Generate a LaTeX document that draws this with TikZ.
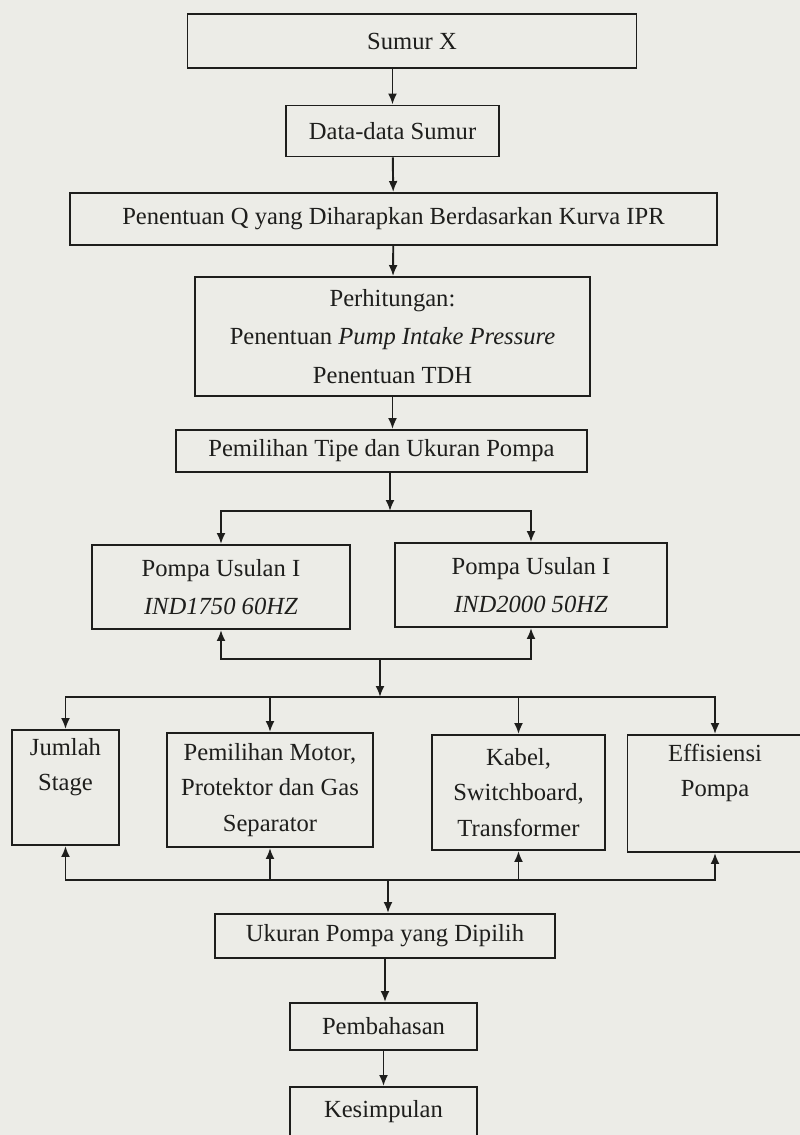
\documentclass[tikz,border=0pt]{standalone}
\usepackage{fontspec}
\setmainfont{Liberation Serif}
\usetikzlibrary{arrows.meta, positioning, calc}
\definecolor{paper}{RGB}{236,236,231}
\definecolor{ink}{RGB}{30,30,28}
\tikzset{
    >={Latex[length=2.2mm,width=1.8mm]},
    % Shapes
    box/.style={rectangle, draw=ink, line width=1.1pt, fill=paper, align=center,
                text=ink, font=\fontsize{14}{20}\selectfont, inner sep=2pt},
    % Flow
    flow/.style={->, line width=1.1pt, draw=ink}
}

\begin{document}
\begin{tikzpicture}
\fill[paper] (0,0) rectangle (16,-22.7);
\useasboundingbox (0,0) rectangle (16,-22.7);

% main column
\node[box, minimum width=8.98cm, minimum height=1.08cm] (sumur) at (8.24,-0.82) {Sumur X};
\node[box, minimum width=4.26cm, minimum height=1.02cm] (data) at (7.85,-2.62) {Data-data Sumur};
\node[box, minimum width=12.94cm, minimum height=1.04cm] (ipr) at (7.87,-4.38) {Penentuan Q yang Diharapkan Berdasarkan Kurva IPR};
\node[box, minimum width=7.9cm, minimum height=2.38cm] (hitung) at (7.85,-6.73)
    {Perhitungan:\\[2pt] Penentuan \textit{Pump Intake Pressure}\\[2pt] Penentuan TDH};
\node[box, minimum width=8.22cm, minimum height=0.84cm] (tipe) at (7.63,-9.02) {Pemilihan Tipe dan Ukuran Pompa};

% pump options
\node[box, minimum width=5.16cm, minimum height=1.68cm] (usulA) at (4.42,-11.74) {Pompa Usulan I\\[2pt] \textit{IND1750 60HZ}};
\node[box, minimum width=5.44cm, minimum height=1.68cm] (usulB) at (10.62,-11.7) {Pompa Usulan I\\[2pt] \textit{IND2000 50HZ}};

% components
\node[box, minimum width=2.14cm, minimum height=2.3cm] (stage) at (1.31,-15.75) {Jumlah\\ Stage\\ \strut};
\node[box, minimum width=4.12cm, minimum height=2.28cm] (motor) at (5.4,-15.8) {Pemilihan Motor,\\ Protektor dan Gas\\ Separator};
\node[box, minimum width=3.46cm, minimum height=2.3cm] (kabel) at (10.37,-15.85) {Kabel,\\ Switchboard,\\ Transformer};
\node[box, minimum width=3.5cm, minimum height=2.34cm] (effi) at (14.3,-15.87) {Effisiensi\\ Pompa\\ \strut};

% result
\node[box, minimum width=6.8cm, minimum height=0.88cm] (ukuran) at (7.7,-18.72) {Ukuran Pompa yang Dipilih};
\node[box, minimum width=3.74cm, minimum height=0.94cm] (bahas) at (7.67,-20.53) {Pembahasan};
\node[box, minimum width=3.74cm, minimum height=1.0cm] (simpul) at (7.67,-22.24) {Kesimpulan};

% junctions
\coordinate (br1) at (7.8,-10.22);
\coordinate (mg1) at (7.6,-13.18);
\coordinate (sp1) at (7.6,-13.94);
\coordinate (mg2) at (7.76,-17.6);

\draw[flow] (sumur.south -| data.north) -- (data.north);
\draw[flow] (data) -- (ipr);
\draw[flow] (ipr) -- (hitung);
\draw[flow] (hitung.south) -- (hitung.south |- tipe.north);
\draw[flow] (tipe.south -| br1) -- (br1);

\draw[flow] (br1) -| (usulA);
\draw[flow] (br1) -| (usulB);
\draw[flow] (mg1) -| (usulA);
\draw[flow] (mg1) -| (usulB);
\draw[flow] (mg1) -- (sp1);

\foreach \n in {stage, motor, kabel, effi} {
    \draw[flow] (sp1) -| (\n);
    \draw[flow] (mg2) -| (\n);
}
\draw[flow] (mg2) -- (ukuran.north -| mg2);
\draw[flow] (ukuran.south) -- (ukuran.south |- bahas.north);
\draw[flow] (bahas) -- (simpul);

\end{tikzpicture}
\end{document}
